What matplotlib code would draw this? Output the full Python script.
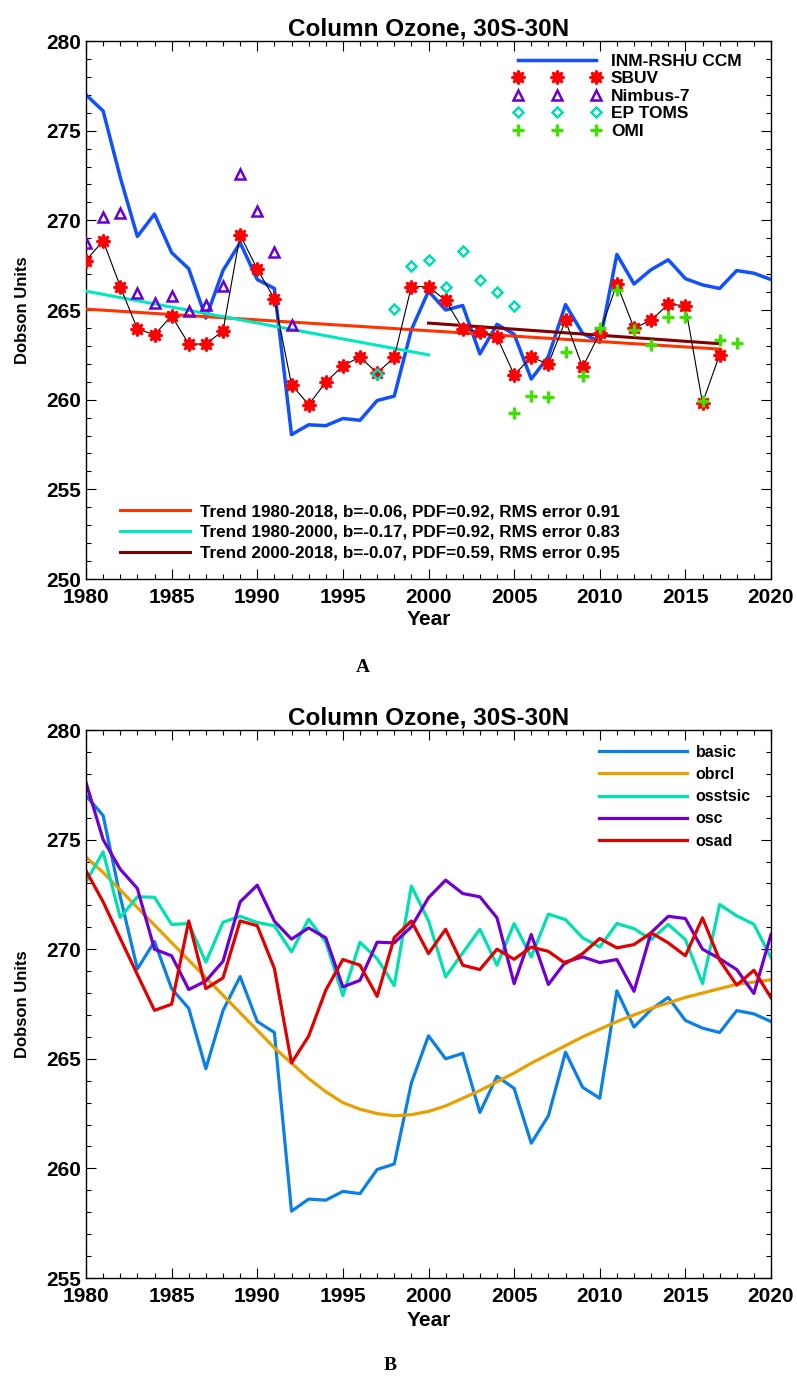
import matplotlib
matplotlib.use("Agg")
import matplotlib.pyplot as plt
from matplotlib.lines import Line2D
from matplotlib.ticker import MultipleLocator

plt.rcParams["font.family"] = ["Liberation Sans", "DejaVu Sans"]
plt.rcParams["font.weight"] = "bold"

# ---- data ----
years = list(range(1980, 2021))

# INM-RSHU CCM basic run (same curve in both panels)
ccm_basic = [277.0, 276.1, 272.4, 269.1, 270.35, 268.2, 267.3, 264.55, 267.2, 268.75,
             266.7, 266.2, 258.05, 258.6, 258.55, 258.95, 258.85, 259.95, 260.2, 263.9,
             266.05, 265.0, 265.25, 262.55, 264.2, 263.65, 261.15, 262.4, 265.3, 263.7,
             263.2, 268.1, 266.45, 267.25, 267.8, 266.75, 266.4, 266.2, 267.2, 267.05, 266.7]

sbuv_years = list(range(1980, 2018))
sbuv = [267.76, 268.86, 266.31, 263.94, 263.62, 264.68, 263.10, 263.10, 263.84, 269.19,
        267.28, 265.63, 260.84, 259.72, 260.97, 261.89, 262.38, 261.49, 262.36, 266.31,
        266.31, 265.53, 263.94, 263.79, 263.49, 261.39, 262.36, 261.99, 264.42, 261.80,
        263.71, 266.46, 263.99, 264.42, 265.33, 265.24, 259.81, 262.51]

nimbus_years = list(range(1980, 1993))
nimbus = [268.73, 270.16, 270.40, 265.94, 265.39, 265.76, 264.96, 265.26, 266.35, 272.57,
          270.53, 268.26, 264.18]

eptoms_years = list(range(1997, 2006))
eptoms = [261.43, 265.07, 267.43, 267.80, 266.26, 268.28, 266.65, 265.98, 265.25]

omi_years = list(range(2005, 2019))
omi = [259.26, 260.19, 260.13, 262.64, 261.30, 263.99, 266.09, 263.90, 263.06, 264.59,
       264.59, 259.91, 263.34, 263.16]

trend_labels = ["Trend 1980-2018, b=-0.06, PDF=0.92, RMS error 0.91",
                "Trend 1980-2000, b=-0.17, PDF=0.92, RMS error 0.83",
                "Trend 2000-2018, b=-0.07, PDF=0.59, RMS error 0.95"]
trend_x = [(1980, 2017), (1980, 2000), (2000, 2017)]
trend_y = [(265.05, 262.82), (266.05, 262.5), (264.27, 263.12)]
trend_colors = ["#ff3300", "#00e8c0", "#800000"]

# panel B sensitivity runs
obrcl = [274.2, 273.5, 272.7, 271.9, 271.1, 270.3, 269.5, 268.7, 267.9, 267.1,
         266.3, 265.5, 264.8, 264.1, 263.5, 263.0, 262.7, 262.5, 262.4, 262.45,
         262.6, 262.85, 263.2, 263.55, 263.95, 264.35, 264.8, 265.2, 265.6, 266.0,
         266.35, 266.7, 267.0, 267.3, 267.55, 267.8, 268.0, 268.2, 268.4, 268.5, 268.6]
osstsic = [273.07, 274.44, 271.45, 272.39, 272.37, 271.13, 271.17, 269.41, 271.23, 271.5,
           271.22, 271.07, 269.88, 271.37, 270.33, 267.88, 270.32, 269.57, 268.34, 272.88,
           271.3, 268.74, 269.83, 270.91, 269.27, 271.17, 269.65, 271.6, 271.35, 270.52,
           270.1, 271.17, 270.94, 270.44, 271.13, 270.44, 268.43, 272.04, 271.52, 271.14, 269.62]
osc = [277.6, 275.0, 273.65, 272.77, 270.0, 269.7, 268.16, 268.55, 269.45, 272.16,
       272.92, 271.28, 270.46, 270.97, 270.52, 268.28, 268.58, 270.32, 270.29, 271.02,
       272.35, 273.15, 272.54, 272.39, 271.43, 268.43, 270.67, 268.39, 269.42, 269.65,
       269.39, 269.53, 268.08, 270.76, 271.5, 271.4, 270.0, 269.57, 269.07, 267.98, 270.67]
osad = [273.58, 272.16, 270.49, 268.84, 267.21, 267.49, 271.29, 268.2, 268.69, 271.29,
        271.07, 269.12, 264.81, 266.03, 268.13, 269.53, 269.27, 267.85, 270.53, 271.29,
        269.8, 270.91, 269.27, 269.07, 270.0, 269.54, 270.1, 269.9, 269.35, 269.8,
        270.49, 270.06, 270.21, 270.75, 270.29, 269.7, 271.43, 269.5, 268.36, 269.04, 267.79]

runs_b = [ccm_basic, obrcl, osstsic, osc, osad]
runs_b_labels = ["basic", "obrcl", "osstsic", "osc", "osad"]
runs_b_colors = ["#0a7fe6", "#e8a000", "#00e0b0", "#7000d0", "#e00000"]

TITLE = "Column Ozone, 30S-30N"

W, H = 797, 1376
fig = plt.figure(figsize=(W / 100, H / 100), dpi=100)
ax_a = fig.add_axes([86 / W, 1 - 579 / H, 685 / W, 538 / H])
ax_b = fig.add_axes([86 / W, 1 - 1278 / H, 685 / W, 548 / H])


def style_axes(ax, ymin, ymax, year_y):
    ax.set_xlim(1980, 2020)
    ax.set_ylim(ymin, ymax)
    ax.xaxis.set_major_locator(MultipleLocator(5))
    ax.xaxis.set_minor_locator(MultipleLocator(1))
    ax.yaxis.set_major_locator(MultipleLocator(5))
    ax.yaxis.set_minor_locator(MultipleLocator(1))
    ax.tick_params(which="both", direction="in", top=True, right=True, width=0.8)
    ax.tick_params(which="major", length=7.2)
    ax.tick_params(which="minor", length=3.6)
    ax.tick_params(axis="x", labelsize=15, pad=6.6)
    ax.tick_params(axis="y", labelsize=15, pad=3.6)
    for s in ax.spines.values():
        s.set_linewidth(1.0)
    ax.set_title(TITLE, fontsize=17.5, fontweight="bold", pad=4)
    ax.set_xlabel("Year", fontsize=15, fontweight="bold", va="center")
    ax.xaxis.set_label_coords(0.5, year_y)
    ax.set_ylabel("Dobson Units", fontsize=12, fontweight="bold", va="center")
    ax.yaxis.set_label_coords(-0.0934, 0.5)


# ---- panel A ----
star = (8, 1, 0)   # filled 8-point star, close to the IDL asterisk symbol
star_kw = dict(ls="none", marker=star, ms=10, mew=1.6, color="#ff0000")
tri_kw = dict(ls="none", marker="^", ms=7, mew=1.8, mfc="none", mec="#6a00d0")
dia_kw = dict(ls="none", marker="D", ms=5.5, mew=1.8, mfc="none", mec="#00dcb4")
plus_kw = dict(ls="none", marker="+", ms=8.5, mew=2.4, color="#40e000")

ax_a.plot(years, ccm_basic, color="#1050ff", lw=2.5, zorder=2)
for (x0, x1), (y0, y1), c in zip(trend_x, trend_y, trend_colors):
    ax_a.plot([x0, x1], [y0, y1], color=c, lw=2.2, zorder=3)
ax_a.plot(sbuv_years, sbuv, color="black", lw=0.8, zorder=4)
ax_a.plot(sbuv_years, sbuv, zorder=5, **star_kw)
ax_a.plot(nimbus_years, nimbus, zorder=5, **tri_kw)
ax_a.plot(eptoms_years, eptoms, zorder=5, **dia_kw)
ax_a.plot(omi_years, omi, zorder=6, **plus_kw)
style_axes(ax_a, 250, 280, -0.0757)

src_handles = [
    Line2D([], [], color="#1050ff", lw=2.5),
    Line2D([], [], **star_kw),
    Line2D([], [], **tri_kw),
    Line2D([], [], **dia_kw),
    Line2D([], [], **plus_kw),
]
src_labels = ["INM-RSHU CCM", "SBUV", "Nimbus-7", "EP TOMS", "OMI"]
leg_src = ax_a.legend(src_handles, src_labels, loc="upper left",
                      bbox_to_anchor=(0.6234, 0.976), frameon=False, numpoints=3,
                      fontsize=12.5, handlelength=5.06, handletextpad=0.57,
                      labelspacing=0.13, borderpad=0, borderaxespad=0)
ax_a.add_artist(leg_src)

trend_handles = [Line2D([], [], color=c, lw=2.2) for c in trend_colors]
ax_a.legend(trend_handles, trend_labels, loc="upper left",
            bbox_to_anchor=(0.0496, 0.139), frameon=False,
            fontsize=12.3, handlelength=4.1, handletextpad=0.58,
            labelspacing=0.33, borderpad=0, borderaxespad=0)

# ---- panel B ----
for vals, lab, c in zip(runs_b, runs_b_labels, runs_b_colors):
    ax_b.plot(years, vals, color=c, lw=2.3, label=lab)
style_axes(ax_b, 255, 280, -0.0779)
ax_b.legend(loc="upper left", bbox_to_anchor=(0.749, 0.973), frameon=False,
            fontsize=11.5, handlelength=5.5, handletextpad=0.56,
            labelspacing=0.45, borderpad=0, borderaxespad=0)

fig.text(363 / W, 1 - 668 / H, "A", fontsize=14, fontweight="bold",
         family="Liberation Serif", ha="center", va="center")
fig.text(390 / W, 1 - 1366 / H, "B", fontsize=14, fontweight="bold",
         family="Liberation Serif", ha="center", va="center")

fig.savefig("out.png", dpi=100)
